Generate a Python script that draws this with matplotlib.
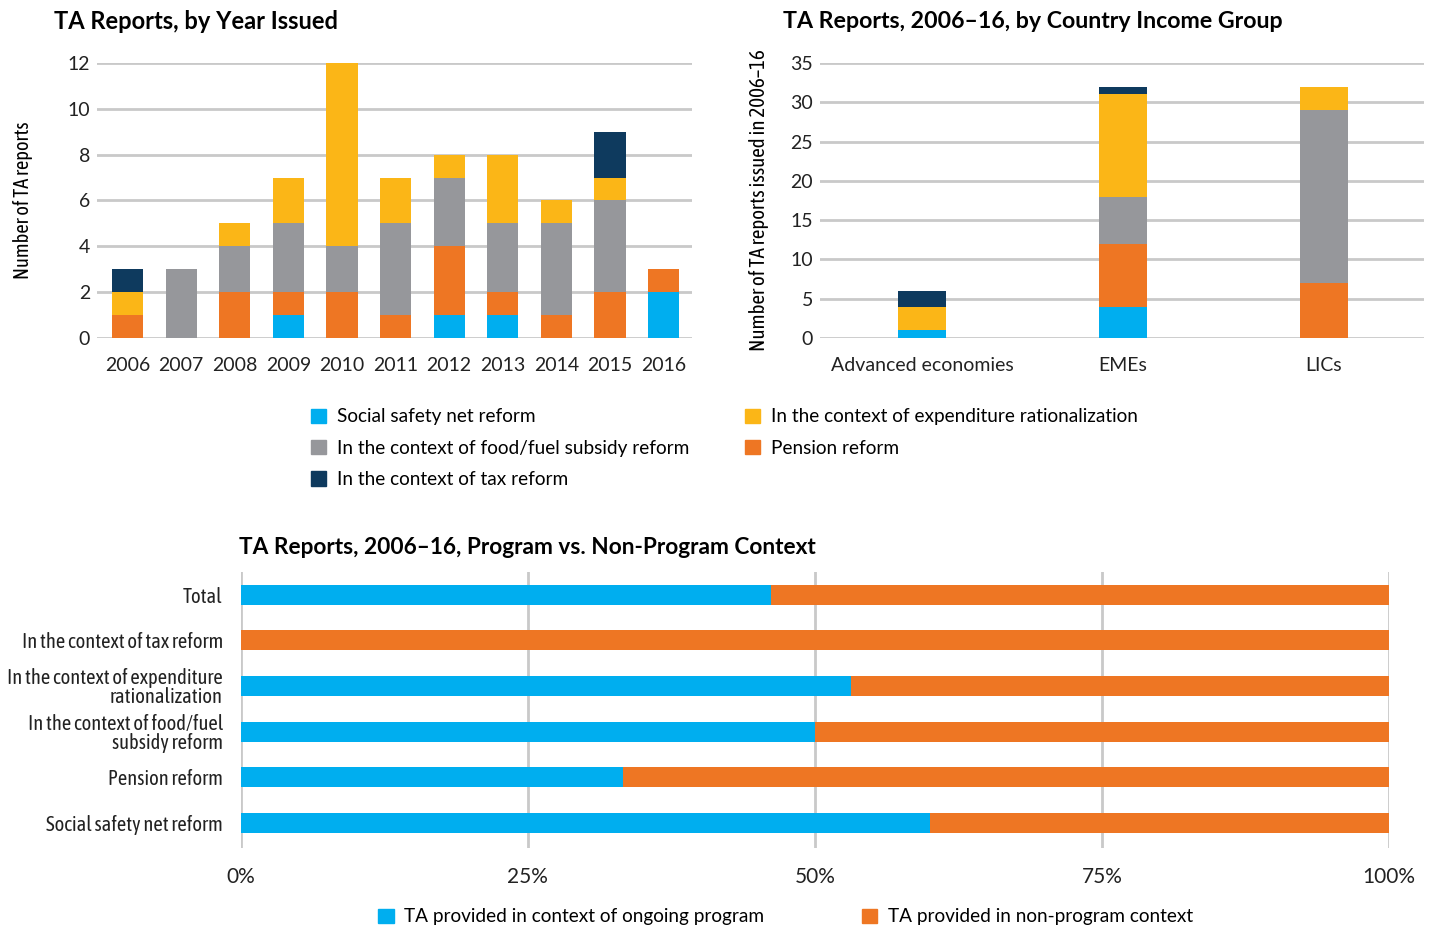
import matplotlib
matplotlib.use('Agg')
import matplotlib.pyplot as plt
from matplotlib.patches import Patch
import numpy as np

# --- data ---
years = ['2006', '2007', '2008', '2009', '2010', '2011', '2012', '2013', '2014', '2015', '2016']
safety_year = [0, 0, 0, 1, 0, 0, 1, 1, 0, 0, 2]
pension_year = [1, 0, 2, 1, 2, 1, 3, 1, 1, 2, 1]
food_year = [0, 3, 2, 3, 2, 4, 3, 3, 4, 4, 0]
expend_year = [1, 0, 1, 2, 8, 2, 1, 3, 1, 1, 0]
tax_year = [1, 0, 0, 0, 0, 0, 0, 0, 0, 2, 0]

groups = ['Advanced economies', 'EMEs', 'LICs']
safety_grp = [1, 4, 0]
pension_grp = [0, 8, 7]
food_grp = [0, 6, 22]
expend_grp = [3, 13, 3]
tax_grp = [2, 1, 0]

contexts = ['Total', 'In the context of tax reform',
            'In the context of expenditure\nrationalization',
            'In the context of food/fuel\nsubsidy reform',
            'Pension reform', 'Social safety net reform']
program_pct = [46.2, 0.0, 53.1, 50.0, 33.3, 60.0]

series_names = ['Social safety net reform', 'Pension reform',
                'In the context of food/fuel subsidy reform',
                'In the context of expenditure rationalization',
                'In the context of tax reform']
colors = ['#00AEEF', '#EE7623', '#96979B', '#FBB617', '#0E3A5E']
grid_c = '#C9C9C9'

plt.rcParams['font.family'] = ['Lato', 'DejaVu Sans']
narrow = ['Asap Condensed', 'Archivo Narrow', 'Roboto', 'DejaVu Sans']

fig = plt.figure(figsize=(14.34, 9.30), dpi=100)


def style_axes(ax):
    for s in ax.spines.values():
        s.set_visible(False)
    ax.tick_params(length=0, labelsize=14, colors='#222222')


def stacked(ax, cats, data, width):
    x = np.arange(len(cats))
    bottom = np.zeros(len(cats))
    for vals, c in zip(data, colors):
        ax.bar(x, vals, width, bottom=bottom, color=c, zorder=3, clip_on=False)
        bottom += np.array(vals)
    ax.set_xticks(x)
    ax.set_xticklabels(cats)
    ax.yaxis.grid(True, color=grid_c, linewidth=2, zorder=0)
    ax.set_axisbelow(True)


# top-left
ax1 = fig.add_axes([0.0676, 0.6366, 0.415, 0.2957])
stacked(ax1, years, [safety_year, pension_year, food_year, expend_year, tax_year], 0.58)
ax1.set_xlim(-0.57, 10.53)
ax1.set_ylim(0, 12)
ax1.set_yticks(range(0, 13, 2))
style_axes(ax1)
ax1.tick_params(axis='x', pad=14)
ax1.tick_params(axis='y', pad=5)
ax1.set_ylabel('Number of TA reports', fontsize=14.7, family=narrow, labelpad=25)
fig.text(0.038, 0.977, 'TA Reports, by Year Issued', fontsize=17, fontweight='bold',
         va='center', ha='left')

# top-right
ax2 = fig.add_axes([0.5718, 0.6366, 0.4212, 0.2957])
stacked(ax2, groups, [safety_grp, pension_grp, food_grp, expend_grp, tax_grp], 0.24)
ax2.set_xlim(-0.507, 2.497)
ax2.set_ylim(0, 35)
ax2.set_yticks(range(0, 36, 5))
style_axes(ax2)
ax2.tick_params(axis='x', pad=14)
ax2.tick_params(axis='y', pad=5)
ax2.set_ylabel('Number of TA reports issued in 2006\u201316', fontsize=15, family=narrow,
               labelpad=15)
fig.text(0.546, 0.977, 'TA Reports, 2006\u201316, by Country Income Group', fontsize=16.7,
         fontweight='bold', va='center', ha='left')

# legend for top charts
handles = [Patch(color=c) for c in colors]
order = [0, 2, 4, 3, 1]
fig.legend([handles[i] for i in order], [series_names[i] for i in order],
           loc='center left', bbox_to_anchor=(0.205, 0.518), ncol=2, frameon=False,
           fontsize=13.7, handlelength=0.8, handleheight=0.8, handletextpad=0.55,
           columnspacing=2.93, labelspacing=0.75)

# bottom
ax3 = fig.add_axes([0.168, 0.0882, 0.8006, 0.2967])
y = np.arange(len(contexts))
prog = np.array(program_pct)
ax3.barh(y, prog, 0.44, color=colors[0], zorder=3)
ax3.barh(y, 100 - prog, 0.44, left=prog, color=colors[1], zorder=3)
ax3.set_xlim(0, 100)
ax3.set_ylim(len(contexts) - 0.45, -0.5)
ax3.set_yticks(y)
ax3.set_yticklabels(contexts, linespacing=0.95, family=narrow)
ax3.set_xticks([0, 25, 50, 75, 100])
ax3.set_xticklabels(['0%', '25%', '50%', '75%', '100%'])
ax3.xaxis.grid(True, color=grid_c, linewidth=2, zorder=0)
ax3.set_axisbelow(True)
style_axes(ax3)
ax3.tick_params(axis='x', pad=14, labelsize=15)
ax3.tick_params(axis='y', pad=13, labelsize=14.8)
fig.text(0.167, 0.411, 'TA Reports, 2006\u201316, Program vs. Non-Program Context', fontsize=16.3,
         fontweight='bold', va='center', ha='left')

fig.legend([Patch(color=colors[0]), Patch(color=colors[1])],
           ['TA provided in context of ongoing program', 'TA provided in non-program context'],
           loc='center left', bbox_to_anchor=(0.252, 0.014), ncol=2, frameon=False,
           fontsize=13.7, handlelength=0.8, handleheight=0.8, handletextpad=0.55,
           columnspacing=5.13)

fig.savefig('out.png', dpi=100)
